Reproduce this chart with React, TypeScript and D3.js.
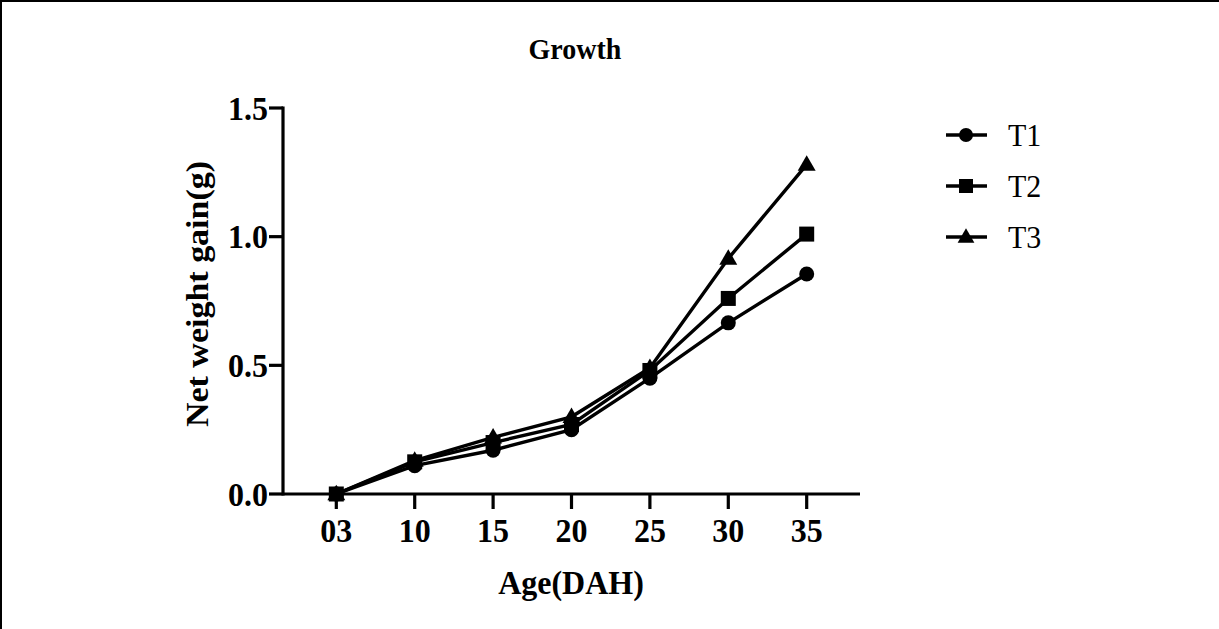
import React from "react";
import * as d3 from "d3";

const ages = ["03", "10", "15", "20", "25", "30", "35"];
const t1 = [0, 0.11, 0.17, 0.25, 0.45, 0.665, 0.855];
const t2 = [0, 0.125, 0.2, 0.27, 0.48, 0.76, 1.01];
const t3 = [0, 0.13, 0.22, 0.3, 0.49, 0.915, 1.28];
const yTicks = [0, 0.5, 1.0, 1.5];
const seriesNames = ["T1", "T2", "T3"];

const W = 1219;
const H = 629;
const FONT = "'Liberation Serif', 'Times New Roman', serif";
// glyphs are drawn slightly taller than wide
const STRETCH = 1.07;

function Marker({ kind, x, y, s }: { kind: number; x: number; y: number; s: number }) {
  if (kind === 0) return <circle cx={x} cy={y} r={s / 2} fill="#000" />;
  if (kind === 1) return <rect x={x - s / 2} y={y - s / 2} width={s} height={s} fill="#000" />;
  const path = d3.symbol(d3.symbolTriangle, s * s * 0.62)();
  return <path d={path || ""} transform={`translate(${x},${y + 1})`} fill="#000" />;
}

function Label({
  x,
  y,
  size,
  anchor = "middle",
  bold = true,
  dy,
  children,
}: {
  x: number;
  y: number;
  size: number;
  anchor?: string;
  bold?: boolean;
  dy?: string;
  children: React.ReactNode;
}) {
  return (
    <text
      transform={`translate(${x},${y}) scale(1,${STRETCH})`}
      dy={dy}
      textAnchor={anchor as any}
      fontFamily={FONT}
      fontWeight={bold ? "bold" : "normal"}
      fontSize={size}
    >
      {children}
    </text>
  );
}

export default function App() {
  const x0 = 283;
  const x1 = 860;
  const yTop = 108;
  const yBot = 494;

  const x = d3.scalePoint<string>().domain(ages).range([x0, x1]).padding(0.68);
  const y = d3.scaleLinear().domain([0, 1.5]).range([yBot, yTop]);

  const series = [t1, t2, t3];
  const line = d3
    .line<number>()
    .x((_, i) => x(ages[i]) as number)
    .y((v) => y(v));

  return (
    <svg width={W} height={H} style={{ position: "absolute", left: 0, top: 0, background: "#fff" }}>
      <rect x={0} y={0} width={W} height={H} fill="#fff" />
      {/* frame: top and left edges */}
      <line x1={0} y1={1} x2={W} y2={1} stroke="#000" strokeWidth={2} />
      <line x1={1} y1={0} x2={1} y2={H} stroke="#000" strokeWidth={2} />

      <Label x={575} y={59} size={28}>
        Growth
      </Label>

      {/* y axis */}
      <line x1={x0} y1={yTop - 1.5} x2={x0} y2={yBot + 1.5} stroke="#000" strokeWidth={3.2} />
      {yTicks.map((t) => (
        <g key={t}>
          <line x1={x0 - 14} y1={y(t)} x2={x0} y2={y(t)} stroke="#000" strokeWidth={3.2} />
          <Label x={x0 - 15} y={y(t) + 11.5} size={32} anchor="end">
            {d3.format(".1f")(t)}
          </Label>
        </g>
      ))}

      {/* x axis */}
      <line x1={x0} y1={yBot} x2={x1} y2={yBot} stroke="#000" strokeWidth={3.2} />
      {ages.map((a) => (
        <g key={a}>
          <line x1={x(a)} y1={yBot} x2={x(a)} y2={yBot + 15} stroke="#000" strokeWidth={3.2} />
          <Label x={x(a) as number} y={542} size={32}>
            {a}
          </Label>
        </g>
      ))}

      <Label x={571} y={594} size={32}>
        Age(DAH)
      </Label>
      <text
        transform={`translate(208,${(yTop + yBot) / 2 - 7}) rotate(-90) scale(1,0.94)`}
        textAnchor="middle"
        fontFamily={FONT}
        fontWeight="bold"
        fontSize={34}
      >
        Net weight gain(g)
      </text>

      {/* series lines */}
      {series.map((s, k) => (
        <path key={k} d={line(s) || ""} fill="none" stroke="#000" strokeWidth={3.4} />
      ))}
      {series.map((s, k) =>
        s.map((v, i) => <Marker key={`${k}-${i}`} kind={k} x={x(ages[i]) as number} y={y(v)} s={15} />)
      )}

      {/* legend */}
      {seriesNames.map((n, k) => {
        const ly = 135 + k * 51;
        return (
          <g key={n}>
            <line x1={946} y1={ly} x2={987} y2={ly} stroke="#000" strokeWidth={3.4} />
            <Marker kind={k} x={966} y={ly} s={14} />
            <Label x={1008} y={ly + 10.5} size={30} anchor="start" bold={false}>
              {n}
            </Label>
          </g>
        );
      })}
    </svg>
  );
}
